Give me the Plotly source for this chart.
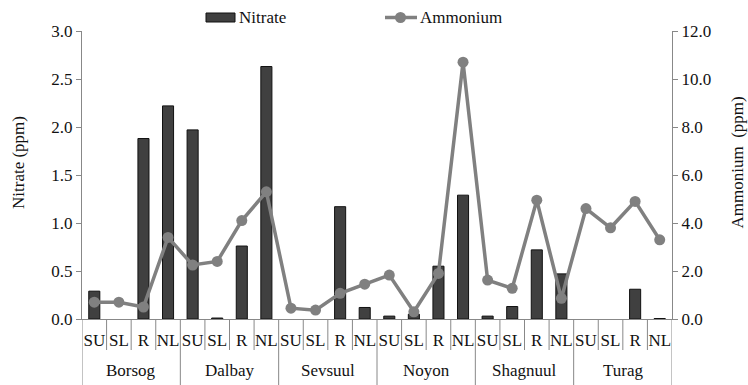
import plotly.graph_objects as go

groups = ["Borsog", "Dalbay", "Sevsuul", "Noyon", "Shagnuul", "Turag"]
subs = ["SU", "SL", "R", "NL"]
nitrate = [0.29, None, 1.88, 2.22,
           1.97, 0.01, 0.76, 2.63,
           None, None, 1.17, 0.12,
           0.03, 0.05, 0.55, 1.29,
           0.03, 0.13, 0.72, 0.47,
           None, None, 0.31, 0.005]
ammonium = [0.7, 0.7, 0.5, 3.4,
            2.25, 2.4, 4.1, 5.3,
            0.45, 0.37, 1.07, 1.45,
            1.83, 0.3, 1.9, 10.7,
            1.62, 1.28, 4.95, 0.86,
            4.6, 3.8, 4.9, 3.3]

n = len(groups) * len(subs)
xs = list(range(n))
ticktext = subs * len(groups)

FONT = "Liberation Serif"
AX = "#888888"
BAR = "#404040"
LINE = "#808080"
TXT = "#111111"

fig = go.Figure()
fig.add_trace(go.Bar(x=xs, y=nitrate, name="Nitrate", width=0.45,
                     marker=dict(color=BAR, line=dict(color="#111111", width=1)),
                     showlegend=False))
fig.add_trace(go.Scatter(x=xs, y=ammonium, name="Ammonium", yaxis="y2",
                         mode="lines+markers",
                         line=dict(color=LINE, width=3.5),
                         marker=dict(color=LINE, size=11),
                         showlegend=False))

W, H = 748, 385
ml, mr, mt, mb = 82, 76, 31, 66
pw, ph = W - ml - mr, H - mt - mb

def px_x(p):
    return (p - ml) / pw

def px_y(p):
    return (H - mb - p) / ph

shapes = []
for k in range(n + 1):
    xv = k - 0.5
    is_group = (k % len(subs) == 0)
    shapes.append(dict(type="line", xref="x", yref="paper", x0=xv, x1=xv,
                       y0=0, y1=px_y(385 if is_group else 350),
                       line=dict(color=AX, width=1)))

# legend
shapes.append(dict(type="rect", xref="paper", yref="paper",
                   x0=px_x(206), x1=px_x(235), y0=px_y(13), y1=px_y(22),
                   fillcolor=BAR, line=dict(color="#111111", width=1)))
shapes.append(dict(type="line", xref="paper", yref="paper",
                   x0=px_x(385), x1=px_x(417), y0=px_y(17.5), y1=px_y(17.5),
                   line=dict(color=LINE, width=3.5)))
shapes.append(dict(type="circle", xref="paper", yref="paper",
                   x0=px_x(395), x1=px_x(406), y0=px_y(12), y1=px_y(23),
                   fillcolor=LINE, line=dict(color=LINE, width=0)))

annotations = []
for gi, g in enumerate(groups):
    annotations.append(dict(text=g, xref="x", yref="paper",
                            x=gi * len(subs) + 1.5, y=px_y(370),
                            showarrow=False, yanchor="middle",
                            font=dict(family=FONT, size=17, color=TXT)))
annotations.append(dict(text="Nitrate", xref="paper", yref="paper",
                        x=px_x(237), y=px_y(17.5), xanchor="left", yanchor="middle",
                        showarrow=False, font=dict(family=FONT, size=17, color=TXT)))
annotations.append(dict(text="Ammonium", xref="paper", yref="paper",
                        x=px_x(418), y=px_y(17.5), xanchor="left", yanchor="middle",
                        showarrow=False, font=dict(family=FONT, size=17, color=TXT)))
annotations.append(dict(text="Nitrate (ppm)", xref="paper", yref="paper",
                        x=px_x(18), y=px_y(163), textangle=-90,
                        xanchor="center", yanchor="middle",
                        showarrow=False, font=dict(family=FONT, size=17, color=TXT)))
annotations.append(dict(text="Ammonium  (ppm)", xref="paper", yref="paper",
                        x=px_x(747), y=px_y(163), textangle=-90,
                        xanchor="right", yanchor="middle", borderpad=0,
                        showarrow=False, font=dict(family=FONT, size=17, color=TXT)))

fig.update_layout(
    width=W, height=H,
    margin=dict(l=ml, r=mr, t=mt, b=mb),
    paper_bgcolor="white", plot_bgcolor="white",
    font=dict(family=FONT, size=17, color=TXT),
    showlegend=False,
    xaxis=dict(range=[-0.5, n - 0.5], tickmode="array", tickvals=xs, ticktext=ticktext,
               showline=True, linecolor=AX, linewidth=1, ticks="outside",
               ticklen=6, tickcolor="rgba(0,0,0,0)", showgrid=False, zeroline=False,
               tickfont=dict(family=FONT, size=17, color=TXT)),
    yaxis=dict(range=[0, 3], dtick=0.5, tickformat=".1f", showgrid=False,
               showline=True, linecolor=AX, linewidth=1, ticks="outside",
               ticklen=5, tickcolor=AX, zeroline=False,
               tickfont=dict(family=FONT, size=17, color=TXT)),
    yaxis2=dict(range=[0, 12], dtick=2, tickformat=".1f", showgrid=False,
                overlaying="y", side="right",
                showline=True, linecolor=AX, linewidth=1, ticks="outside",
                ticklen=5, tickcolor=AX, zeroline=False,
                tickfont=dict(family=FONT, size=17, color=TXT)),
    shapes=shapes,
    annotations=annotations,
)

fig.write_html("out.html", config={"displayModeBar": False},
               post_script="document.body.style.margin='0';document.body.style.padding='0';")
